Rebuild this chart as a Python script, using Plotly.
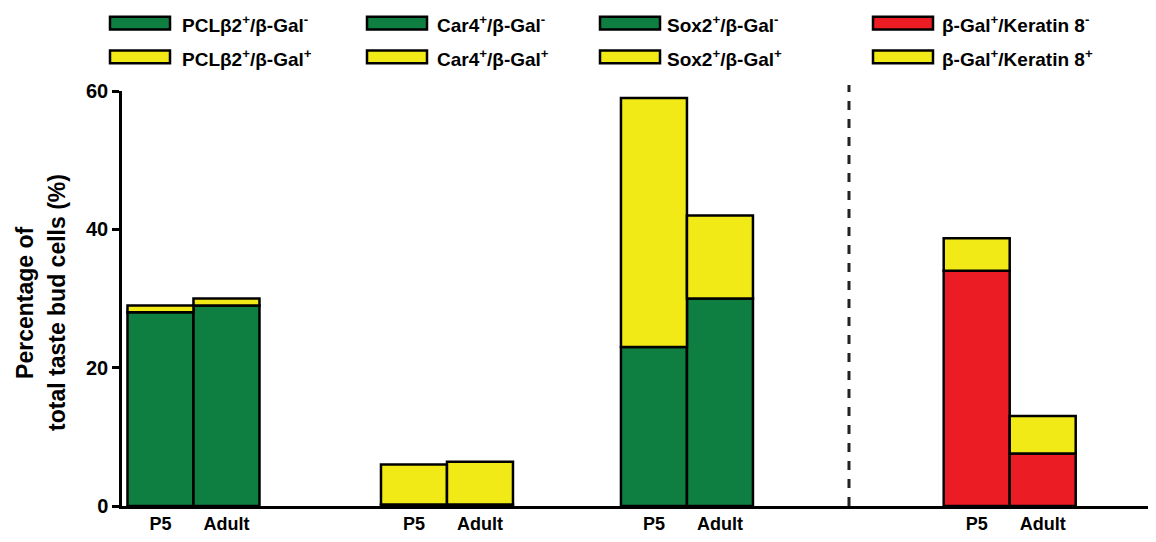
import plotly.graph_objects as go

# ---------------- data ----------------
stages = ["P5", "Adult"]
pcl_neg = [28.0, 29.0]      # PCLβ2+/β-Gal-
pcl_pos = [1.0, 1.0]        # PCLβ2+/β-Gal+
car4_neg = [0.2, 0.2]       # Car4+/β-Gal-
car4_pos = [5.8, 6.2]       # Car4+/β-Gal+
sox2_neg = [23.0, 30.0]     # Sox2+/β-Gal-
sox2_pos = [36.0, 12.0]     # Sox2+/β-Gal+
k8_neg = [34.0, 7.6]        # β-Gal+/Keratin 8-
k8_pos = [4.7, 5.4]         # β-Gal+/Keratin 8+
y_ticks = [0, 20, 40, 60]

# ---------------- layout helpers ----------------
OFF = 8                      # page body margin in the browser
W, H = 1140, 526
L = 122 - OFF
T = 91 - OFF
B = H - (510 - OFF)
R = 0
UNIT = 66.0                  # pixels per bar width
group_centers = [0.583, 4.424, 8.06, 12.95]   # P5 bar centre of each group (bar-width units)
x_range = [0, (W - L - R) / UNIT]
divider_x = 11.015

GREEN = "#0f7f41"
YELLOW = "#f2ea17"
RED = "#ec1c24"
FONT = "Liberation Sans"

def px_x(px):
    return (px - OFF - L) / (W - L - R)

def px_y(py):
    return (H - B - (py - OFF)) / (H - T - B)

groups = [
    (pcl_neg, pcl_pos, GREEN),
    (car4_neg, car4_pos, GREEN),
    (sox2_neg, sox2_pos, GREEN),
    (k8_neg, k8_pos, RED),
]

fig = go.Figure()
tickvals, ticktext = [], []
for (neg, pos, col), c in zip(groups, group_centers):
    xs = [c, c + 1]
    tickvals += xs
    ticktext += stages
    fig.add_trace(go.Bar(x=xs, y=neg, width=1, marker=dict(color=col, line=dict(color="black", width=2.5)),
                         showlegend=False, hoverinfo="y"))
    fig.add_trace(go.Bar(x=xs, y=pos, base=neg, width=1, marker=dict(color=YELLOW, line=dict(color="black", width=2.5)),
                         showlegend=False, hoverinfo="y"))

# legend (drawn as shapes + text)
legend_items = [
    (110, 180, "PCLβ2<sup>+</sup>/β-Gal<sup>-</sup>", "PCLβ2<sup>+</sup>/β-Gal<sup>+</sup>", GREEN),
    (367, 435, "Car4<sup>+</sup>/β-Gal<sup>-</sup>", "Car4<sup>+</sup>/β-Gal<sup>+</sup>", GREEN),
    (600, 665, "Sox2<sup>+</sup>/β-Gal<sup>-</sup>", "Sox2<sup>+</sup>/β-Gal<sup>+</sup>", GREEN),
    (873, 940, "β-Gal<sup>+</sup>/Keratin 8<sup>-</sup>", "β-Gal<sup>+</sup>/Keratin 8<sup>+</sup>", RED),
]
shapes = []
annotations = []
rows = [(16, 29, 23.5), (50, 63, 57.5)]
for sx, tx, t1, t2, col in legend_items:
    for (y0, y1, yc), txt, fc in zip(rows, [t1, t2], [col, YELLOW]):
        shapes.append(dict(type="rect", xref="paper", yref="paper",
                           x0=px_x(sx), x1=px_x(sx + 60), y0=px_y(y1), y1=px_y(y0),
                           fillcolor=fc, line=dict(color="black", width=2.5)))
        annotations.append(dict(xref="paper", yref="paper", x=px_x(tx), y=px_y(yc),
                                xanchor="left", yanchor="middle", showarrow=False,
                                text="<b>" + txt + "</b>",
                                font=dict(family=FONT, size=19, color="black")))

# divider
shapes.append(dict(type="line", xref="x", yref="paper", x0=divider_x, x1=divider_x,
                   y0=0, y1=px_y(85), line=dict(color="#222222", width=3, dash="dash")))

# y-axis title (two lines)
for xc, txt in [(25, "Percentage of"), (57, "total taste bud cells (%)")]:
    annotations.append(dict(xref="paper", yref="paper", x=px_x(xc), y=px_y(305),
                            xanchor="center", yanchor="middle", showarrow=False, textangle=-90,
                            text="<b>" + txt + "</b>",
                            font=dict(family=FONT, size=23, color="black")))

fig.update_layout(
    width=W, height=H,
    margin=dict(l=L, r=R, t=T, b=B, pad=0),
    plot_bgcolor="white", paper_bgcolor="white",
    barmode="overlay",
    shapes=shapes, annotations=annotations,
    xaxis=dict(range=x_range, tickvals=tickvals, ticktext=ticktext, showgrid=False, zeroline=False,
               showline=True, linecolor="black", linewidth=2.5, ticks="",
               tickfont=dict(family=FONT, size=18, color="black", weight="bold")),
    yaxis=dict(range=[0, 60], tickvals=y_ticks, showgrid=False, zeroline=False,
               showline=True, linecolor="black", linewidth=2.5, ticks="outside", ticklen=7, tickwidth=2.5,
               tickcolor="black",
               tickfont=dict(family=FONT, size=20, color="black", weight="bold")),
)

fig.write_html("out.html")
